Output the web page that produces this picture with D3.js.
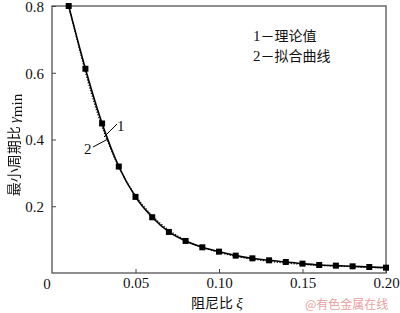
<!DOCTYPE html>
<html lang="zh">
<head>
<meta charset="UTF-8">
<script src="https://d3js.org/d3.v7.min.js"></script>
<style>
  body { margin: 0; background: #fff; }
  svg { display: block; }
  .num { font-family: "Liberation Serif", "DejaVu Serif", serif; font-size: 15px; fill: #111; }
  .cjk { font-family: "Noto Sans CJK SC", sans-serif; font-size: 14px; fill: #111; }
</style>
</head>
<body>
<svg width="400" height="313"></svg>
<script>
// damping ratio (x) and theoretical min period ratio (curve 1, squares)
const xi = [0.01, 0.02, 0.03, 0.04, 0.05, 0.06, 0.07, 0.08, 0.09, 0.10,
            0.11, 0.12, 0.13, 0.14, 0.15, 0.16, 0.17, 0.18, 0.19, 0.20];
const gammaTheory = [0.800, 0.612, 0.448, 0.319, 0.228, 0.167, 0.123, 0.096, 0.077, 0.064,
                     0.052, 0.044, 0.038, 0.033, 0.028, 0.024, 0.022, 0.020, 0.018, 0.016];
// fitted curve (curve 2, dotted)
const xiFit = [0.01, 0.015, 0.02, 0.025, 0.03, 0.035, 0.04, 0.05, 0.06, 0.07, 0.08, 0.09, 0.10,
               0.11, 0.12, 0.13, 0.14, 0.15, 0.16, 0.17, 0.18, 0.19, 0.20];
const gammaFit = [0.800, 0.700, 0.602, 0.515, 0.438, 0.374, 0.318, 0.232, 0.172, 0.128, 0.098, 0.077, 0.062,
                  0.050, 0.042, 0.035, 0.030, 0.026, 0.023, 0.021, 0.019, 0.017, 0.016];
const xTicks = [0.05, 0.10, 0.15, 0.20];
const yTicks = [0.2, 0.4, 0.6, 0.8];

const svg = d3.select("svg");
const L = 52, R = 386, T = 6, B = 273;

const x = d3.scaleLinear().domain([0, 0.2]).range([L, R]);
const y = d3.scaleLinear().domain([0, 0.8]).range([B, T]);

// grayscale filter so the rotated title gets no colour fringes
svg.append("defs").append("filter").attr("id", "gray")
  .append("feColorMatrix").attr("type", "saturate").attr("values", 0);

// frame
svg.append("rect")
  .attr("x", L).attr("y", T).attr("width", R - L).attr("height", B - T)
  .attr("fill", "none").attr("stroke", "#6a6a6a").attr("stroke-width", 1.5);

// axes with inward ticks
const xAxis = svg.append("g").attr("transform", `translate(0,${B})`)
  .call(d3.axisBottom(x).tickValues(xTicks).tickSizeInner(-4).tickSizeOuter(0)
    .tickPadding(4).tickFormat(d3.format(".2f")));
const yAxis = svg.append("g").attr("transform", `translate(${L},0)`)
  .call(d3.axisLeft(y).tickValues(yTicks).tickSizeInner(-4).tickSizeOuter(0)
    .tickPadding(8).tickFormat(d3.format(".1f")));
[xAxis, yAxis].forEach(g => {
  g.select(".domain").remove();
  g.selectAll("line").attr("stroke", "#444").attr("stroke-width", 1);
  g.selectAll("text").attr("class", "num")
    .attr("font-family", null).attr("font-size", null).attr("fill", null);
});
xAxis.selectAll("text").attr("dy", "0.75em");
yAxis.selectAll("text").attr("dy", "0.35em");

svg.append("text").attr("class", "num").attr("x", 47).attr("y", B + 16)
  .attr("text-anchor", "middle").text("0");

// curves
const line = d3.line().x(d => x(d[0])).y(d => y(d[1])).curve(d3.curveMonotoneX);
svg.append("path")
  .attr("d", line(xiFit.map((v, i) => [v, gammaFit[i]])))
  .attr("fill", "none").attr("stroke", "#111").attr("stroke-width", 1.3)
  .attr("stroke-dasharray", "1.3,1.5");
svg.append("path")
  .attr("d", line(xi.map((v, i) => [v, gammaTheory[i]])))
  .attr("fill", "none").attr("stroke", "#000").attr("stroke-width", 1.6);
svg.append("g").selectAll("rect")
  .data(xi.map((v, i) => [v, gammaTheory[i]]))
  .join("rect")
  .attr("x", d => x(d[0]) - 3).attr("y", d => y(d[1]) - 3)
  .attr("width", 6).attr("height", 6).attr("fill", "#000");

// curve labels with leaders
svg.append("line").attr("x1", 117).attr("y1", 124).attr("x2", 104).attr("y2", 137)
  .attr("stroke", "#000").attr("stroke-width", 1);
svg.append("line").attr("x1", 93).attr("y1", 147).attr("x2", 108).attr("y2", 139)
  .attr("stroke", "#000").attr("stroke-width", 1);
svg.append("text").attr("class", "num").attr("x", 117).attr("y", 131).text("1");
svg.append("text").attr("class", "num").attr("x", 84).attr("y", 154).text("2");

// legend
const legend = [["1", "理论值"], ["2", "拟合曲线"]];
legend.forEach((d, i) => {
  const t = svg.append("text").attr("x", 253).attr("y", 41 + i * 20);
  t.append("tspan").attr("class", "num").text(d[0]);
  t.append("tspan").attr("class", "cjk").attr("font-size", 15).text("－" + d[1]);
});

// axis titles
const xt = svg.append("text").attr("x", 191).attr("y", 308);
xt.append("tspan").attr("class", "cjk").attr("font-size", 15).text("阻尼比 ");
xt.append("tspan").attr("class", "num").attr("font-style", "italic").attr("font-size", 16).text("ξ");

const yt = svg.append("g").attr("filter", "url(#gray)")
  .append("text").attr("transform", "translate(19,145) rotate(-90)")
  .attr("text-anchor", "middle");
yt.append("tspan").attr("class", "cjk").attr("font-size", 15).text("最小周期比 ");
yt.append("tspan").attr("class", "num").attr("font-style", "italic").attr("font-size", 16).text("γ");
yt.append("tspan").attr("class", "num").attr("font-size", 11).attr("dy", 3).text("min");

// watermark
svg.append("text").attr("x", 305).attr("y", 309)
  .attr("font-family", "Noto Sans CJK SC, sans-serif")
  .attr("font-size", 12).attr("fill", "#eaa0a0").text("@有色金属在线");
</script>
</body>
</html>
